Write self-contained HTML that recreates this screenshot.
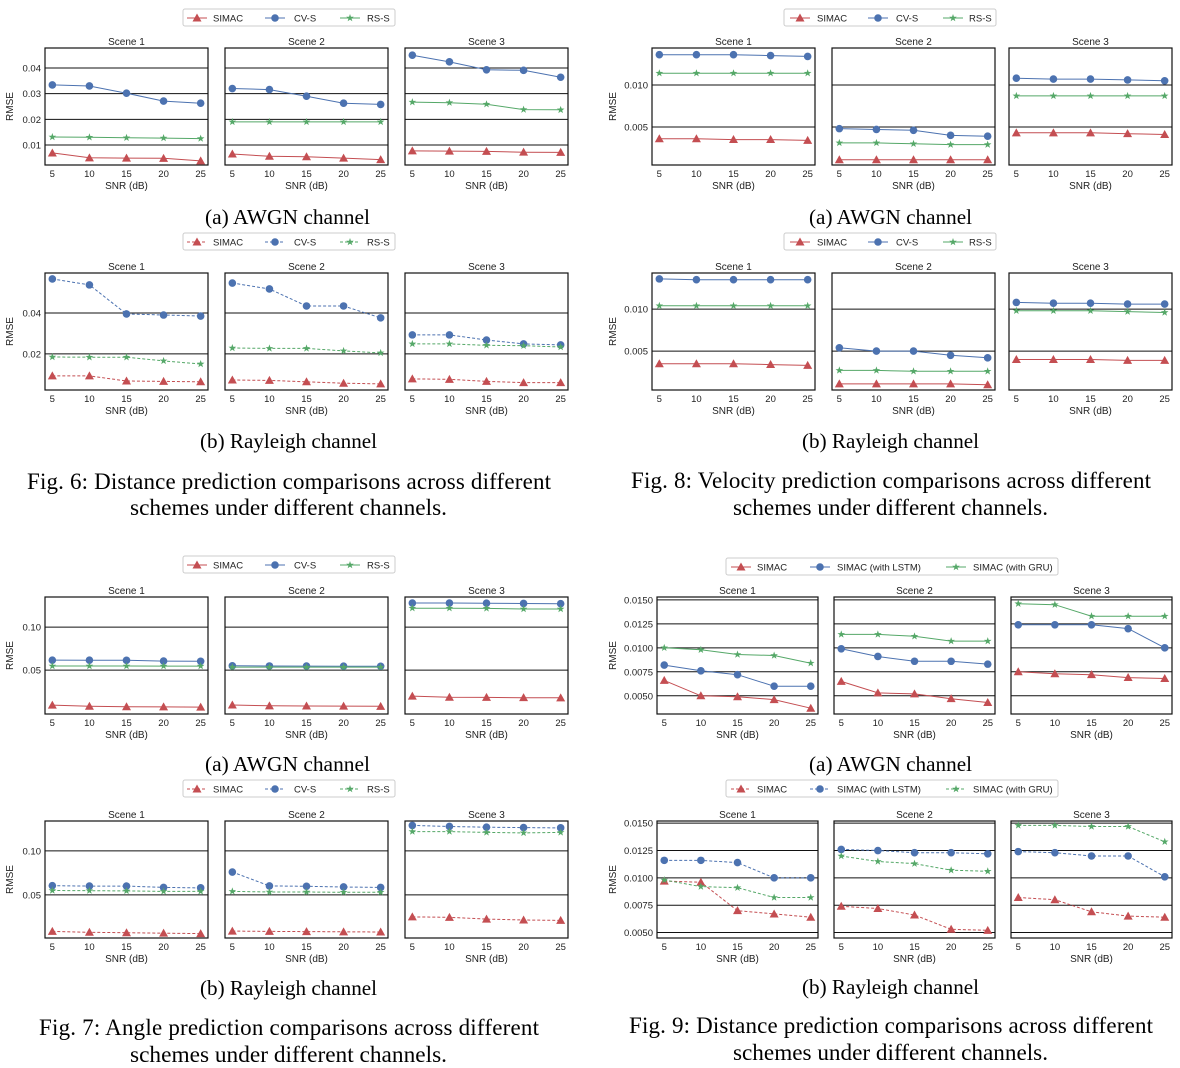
<!DOCTYPE html>
<html><head><meta charset="utf-8">
<style>
html,body{margin:0;padding:0;background:#fff;}
svg{display:block;font-family:"Liberation Sans",sans-serif;}
.cap{font-family:"Liberation Serif",serif;}
</style></head>
<body>
<svg id="root" width="1180" height="1068" viewBox="0 0 1180 1068" xmlns="http://www.w3.org/2000/svg">
<g class="cap" fill="#000">
<text x="205" y="224" font-size="21" textLength="165" lengthAdjust="spacingAndGlyphs">(a) AWGN channel</text>
<text x="200" y="448" font-size="21" textLength="177" lengthAdjust="spacingAndGlyphs">(b) Rayleigh channel</text>
<text x="27" y="489" font-size="23" textLength="524" lengthAdjust="spacing">Fig. 6: Distance prediction comparisons across different</text>
<text x="130" y="515" font-size="23" textLength="317" lengthAdjust="spacingAndGlyphs">schemes under different channels.</text>
<text x="205" y="771" font-size="21" textLength="165" lengthAdjust="spacingAndGlyphs">(a) AWGN channel</text>
<text x="200" y="995" font-size="21" textLength="177" lengthAdjust="spacingAndGlyphs">(b) Rayleigh channel</text>
<text x="39" y="1035" font-size="23" textLength="500" lengthAdjust="spacing">Fig. 7: Angle prediction comparisons across different</text>
<text x="130" y="1062" font-size="23" textLength="317" lengthAdjust="spacingAndGlyphs">schemes under different channels.</text>
<text x="809" y="224" font-size="21" textLength="163" lengthAdjust="spacingAndGlyphs">(a) AWGN channel</text>
<text x="802" y="448" font-size="21" textLength="177" lengthAdjust="spacingAndGlyphs">(b) Rayleigh channel</text>
<text x="631" y="488" font-size="23" textLength="520" lengthAdjust="spacing">Fig. 8: Velocity prediction comparisons across different</text>
<text x="733" y="515" font-size="23" textLength="315" lengthAdjust="spacingAndGlyphs">schemes under different channels.</text>
<text x="809" y="771" font-size="21" textLength="163" lengthAdjust="spacingAndGlyphs">(a) AWGN channel</text>
<text x="802" y="994" font-size="21" textLength="177" lengthAdjust="spacingAndGlyphs">(b) Rayleigh channel</text>
<text x="629" y="1033" font-size="23" textLength="524" lengthAdjust="spacing">Fig. 9: Distance prediction comparisons across different</text>
<text x="733" y="1060" font-size="23" textLength="315" lengthAdjust="spacingAndGlyphs">schemes under different channels.</text>
</g>
</svg>
<script>
const snr = [5, 10, 15, 20, 25];
const sceneNames = ["Scene 1", "Scene 2", "Scene 3"];
const legendA = ["SIMAC", "CV-S", "RS-S"];
const legendB = ["SIMAC", "SIMAC (with LSTM)", "SIMAC (with GRU)"];
// Fig 6a
const f6a_simac = [[0.0069,0.005,0.0049,0.0048,0.0038],[0.0065,0.0056,0.0054,0.0049,0.0043],[0.0077,0.0076,0.0075,0.0072,0.0071]];
const f6a_cvs = [[0.0334,0.033,0.0302,0.0271,0.0263],[0.032,0.0316,0.029,0.0263,0.0258],[0.045,0.0424,0.0393,0.0391,0.0364]];
const f6a_rss = [[0.0131,0.013,0.0128,0.0127,0.0125],[0.019,0.019,0.019,0.019,0.019],[0.0267,0.0265,0.0259,0.0238,0.0237]];
const f6a_ticks = [0.01, 0.02, 0.03, 0.04];
// Fig 6b
const f6b_simac = [[0.0093,0.0093,0.0068,0.0066,0.0064],[0.0073,0.0071,0.0064,0.0057,0.0054],[0.0078,0.0076,0.0066,0.006,0.006]];
const f6b_cvs = [[0.0566,0.0537,0.0395,0.039,0.0385],[0.0546,0.0517,0.0434,0.0434,0.0376],[0.0293,0.0293,0.0268,0.0249,0.0244]];
const f6b_rss = [[0.0185,0.0184,0.0184,0.0166,0.0151],[0.0229,0.0227,0.0227,0.0215,0.0205],[0.0249,0.0249,0.0242,0.024,0.0234]];
const f6b_ticks = [0.02, 0.04];
// Fig 7a
const f7a_simac = [[0.0093,0.008,0.0075,0.0073,0.007],[0.0095,0.0085,0.0083,0.0082,0.0079],[0.0198,0.0185,0.0183,0.018,0.0178]];
const f7a_cvs = [[0.0616,0.0615,0.0614,0.0605,0.0603],[0.055,0.0548,0.0547,0.0546,0.0545],[0.128,0.128,0.1278,0.1275,0.1272]];
const f7a_rss = [[0.0548,0.0548,0.0548,0.0547,0.0547],[0.0535,0.0535,0.0535,0.0535,0.0535],[0.122,0.122,0.1218,0.121,0.121]];
const f7a_ticks = [0.05, 0.10];
// Fig 7b
const f7b_simac = [[0.0085,0.0075,0.007,0.0065,0.006],[0.0088,0.0085,0.0083,0.008,0.0078],[0.025,0.0245,0.0225,0.0215,0.021]];
const f7b_cvs = [[0.0605,0.06,0.06,0.0585,0.058],[0.076,0.0602,0.0598,0.059,0.0585],[0.129,0.1278,0.127,0.1265,0.1262]];
const f7b_rss = [[0.055,0.0548,0.0545,0.054,0.054],[0.054,0.0533,0.0533,0.053,0.053],[0.122,0.122,0.121,0.1205,0.121]];
const f7b_ticks = [0.05, 0.10];
// Fig 8a
const f8a_simac = [[0.0036,0.0036,0.0035,0.0035,0.0034],[0.0011,0.0011,0.0011,0.0011,0.0011],[0.0043,0.0043,0.0043,0.0042,0.0041]];
const f8a_cvs = [[0.0136,0.0136,0.0136,0.0135,0.0134],[0.0048,0.0047,0.0046,0.004,0.0039],[0.0108,0.0107,0.0107,0.0106,0.0105]];
const f8a_rss = [[0.0114,0.0114,0.0114,0.0114,0.0114],[0.0031,0.0031,0.003,0.0029,0.0029],[0.0087,0.0087,0.0087,0.0087,0.0087]];
const f8_ticks = [0.005, 0.010];
// Fig 8b
const f8b_simac = [[0.0035,0.0035,0.0035,0.0034,0.0033],[0.0011,0.0011,0.0011,0.0011,0.001],[0.004,0.004,0.004,0.0039,0.0039]];
const f8b_cvs = [[0.0136,0.0135,0.0135,0.0135,0.0135],[0.0054,0.005,0.005,0.0045,0.0042],[0.0108,0.0107,0.0107,0.0106,0.0106]];
const f8b_rss = [[0.0104,0.0104,0.0104,0.0104,0.0104],[0.0027,0.0027,0.0026,0.0026,0.0026],[0.0098,0.0098,0.0098,0.0097,0.0096]];
// Fig 9a
const f9a_simac = [[0.0066,0.005,0.0049,0.0046,0.0037],[0.0065,0.0053,0.0052,0.0047,0.0043],[0.0075,0.0073,0.0072,0.0069,0.0068]];
const f9a_lstm = [[0.0082,0.0076,0.0072,0.006,0.006],[0.0099,0.0091,0.0086,0.0086,0.0083],[0.0124,0.0124,0.0124,0.012,0.01]];
const f9a_gru = [[0.01,0.0098,0.0093,0.0092,0.0084],[0.0114,0.0114,0.0112,0.0107,0.0107],[0.0146,0.0145,0.0133,0.0133,0.0133]];
const f9_ticks = [0.005, 0.0075, 0.01, 0.0125, 0.015];
// Fig 9b
const f9b_simac = [[0.0097,0.0096,0.007,0.0067,0.0064],[0.0074,0.0072,0.0066,0.0053,0.0052],[0.0082,0.008,0.0069,0.0065,0.0064]];
const f9b_lstm = [[0.0116,0.0116,0.0114,0.01,0.01],[0.0126,0.0125,0.0123,0.0123,0.0122],[0.0124,0.0123,0.012,0.012,0.0101]];
const f9b_gru = [[0.0098,0.0092,0.0091,0.0082,0.0082],[0.012,0.0115,0.0113,0.0107,0.0106],[0.0148,0.0148,0.0147,0.0147,0.0133]];

const COLORS = ["#c44e52", "#4c72b0", "#55a868"];
const NS = "http://www.w3.org/2000/svg";
const root = document.getElementById("root");
function mk(tag, attrs, parent) {
  const e = document.createElementNS(NS, tag);
  for (const k in attrs) e.setAttribute(k, attrs[k]);
  (parent || root).appendChild(e);
  return e;
}
function marker(g, kind, x, y, color, name) {
  let m;
  if (kind === 0) m = mk("polygon", {points: `${x},${y-4.5} ${x-4.5},${y+3.5} ${x+4.5},${y+3.5}`, fill: color}, g);
  else if (kind === 1) m = mk("circle", {cx: x, cy: y, r: 3.8, fill: color}, g);
  else {
    let p = [];
    for (let i = 0; i < 10; i++) { const r = i % 2 ? 1.6 : 4, a = -Math.PI/2 + i*Math.PI/5; p.push((x + r*Math.cos(a)).toFixed(2) + "," + (y + r*Math.sin(a)).toFixed(2)); }
    m = mk("polygon", {points: p.join(" "), fill: color}, g);
  }
  
  
}
function legend(id, x0, y, w, labels, lineXs, textXs, dashed) {
  const g = mk("g", {});
  
  
  mk("rect", {x: x0, y: y-9, width: w, height: 17, rx: 2, fill: "#fff", stroke: "#ccc", "stroke-width": 1}, g);
  labels.forEach((lb, i) => {
    const e = mk("g", {}, g);
    
    
    mk("line", {x1: lineXs[i], x2: lineXs[i]+20, y1: y, y2: y, stroke: COLORS[i], "stroke-width": 1, "stroke-dasharray": dashed ? "3,2" : "none"}, e);
    marker(e, i, lineXs[i]+10, y, COLORS[i], 'legend-marker');
    const t = mk("text", {x: textXs[i], y: y+3.5, "font-size": 9.5, fill: "#222"}, e);
    t.textContent = lb;
  });
}
function group(cfg) {
  const g = mk("g", {});
  
  
  const yt = cfg.top, h = 117;
  const ys = v => yt + h - (v - cfg.ymin) / (cfg.ymax - cfg.ymin) * h;
  const ylab = mk("text", {x: cfg.rmseX, y: yt + h/2, "font-size": 10, fill: "#222", "text-anchor": "middle", transform: `rotate(-90 ${cfg.rmseX} ${yt+h/2})`}, g);
  ylab.textContent = "RMSE";
  
  
  cfg.xs.forEach((x0, p) => {
    const w = cfg.w;
    const xs = v => x0 + w*0.045 + (v - 5) / 20 * w * 0.91;
    const pg = mk("g", {}, g);
    
    
    const tt = mk("text", {x: x0 + w/2, y: yt - 3, "font-size": 10, fill: "#222", "text-anchor": "middle"}, pg);
    tt.textContent = sceneNames[p];
    
    
    cfg.ticks.forEach(t => {
      const y = ys(t);
      if (y < yt || y > yt + h) return;
      mk("line", {x1: x0, x2: x0 + w, y1: y, y2: y, stroke: "#111", "stroke-width": 1}, pg);
      if (p === 0) {
        const l = mk("text", {x: x0 - 4, y: y + 3.5, "font-size": 9.5, fill: "#222", "text-anchor": "end"}, pg);
        l.textContent = t.toFixed(cfg.dec);
        
        
      }
    });
    mk("rect", {x: x0, y: yt, width: w, height: h, fill: "none", stroke: "#111", "stroke-width": 1.2}, pg);
    snr.forEach(v => {
      const l = mk("text", {x: xs(v), y: yt + h + 12, "font-size": 9.5, fill: "#222", "text-anchor": "middle"}, pg);
      l.textContent = v;
      
      
    });
    const xl = mk("text", {x: x0 + w/2, y: yt + h + 24, "font-size": 10, fill: "#222", "text-anchor": "middle"}, pg);
    xl.textContent = "SNR (dB)";
    
    
    cfg.series.forEach((s, si) => {
      const vals = s[p];
      const pts = vals.map((v, i) => xs(snr[i]).toFixed(1) + "," + ys(v).toFixed(1)).join(" ");
      const pl = mk("polyline", {points: pts, fill: "none", stroke: COLORS[si], "stroke-width": 1, "stroke-dasharray": cfg.dashed ? "3,2" : "none"}, pg);
      
      
      vals.forEach((v, i) => marker(pg, si, xs(snr[i]), ys(v), COLORS[si], 'data-point'));
    });
  });
}
const L = [45, 225, 405];
legend('legend-fig6a', 183, 18, 212, legendA, [187,265,340], [213,294,367], false);
legend('legend-fig6b', 183, 242, 212, legendA, [187,265,340], [213,294,367], true);
legend('legend-fig7a', 183, 565, 212, legendA, [187,265,340], [213,294,367], false);
legend('legend-fig7b', 183, 789, 212, legendA, [187,265,340], [213,294,367], true);
legend('legend-fig8a', 784, 18, 212, legendA, [790,868,943], [817,896,969], false);
legend('legend-fig8b', 784, 242, 212, legendA, [790,868,943], [817,896,969], false);
legend('legend-fig9a', 726, 567, 332, legendB, [731,810,946], [757,837,973], false);
legend('legend-fig9b', 726, 789, 332, legendB, [731,810,946], [757,837,973], true);
group({name:'fig6a', xs:L, w:163, top:48, ymin:0.0022, ymax:0.0478, ticks:f6a_ticks, dec:2, rmseX:13, series:[f6a_simac,f6a_cvs,f6a_rss], dashed:false});
group({name:'fig6b', xs:L, w:163, top:273, ymin:0.0024, ymax:0.0595, ticks:f6b_ticks, dec:2, rmseX:13, series:[f6b_simac,f6b_cvs,f6b_rss], dashed:true});
group({name:'fig7a', xs:L, w:163, top:597, ymin:-0.001, ymax:0.135, ticks:f7a_ticks, dec:2, rmseX:13, series:[f7a_simac,f7a_cvs,f7a_rss], dashed:false});
group({name:'fig7b', xs:L, w:163, top:821, ymin:0.001, ymax:0.134, ticks:f7b_ticks, dec:2, rmseX:13, series:[f7b_simac,f7b_cvs,f7b_rss], dashed:true});
group({name:'fig8a', xs:[652,832,1009], w:163, top:48, ymin:0.00047, ymax:0.0144, ticks:f8_ticks, dec:3, rmseX:616, series:[f8a_simac,f8a_cvs,f8a_rss], dashed:false});
group({name:'fig8b', xs:[652,832,1009], w:163, top:273, ymin:0.00037, ymax:0.0143, ticks:f8_ticks, dec:3, rmseX:616, series:[f8b_simac,f8b_cvs,f8b_rss], dashed:false});
group({name:'fig9a', xs:[657,834,1011], w:161, top:597, ymin:0.0031, ymax:0.0153, ticks:f9_ticks, dec:4, rmseX:616, series:[f9a_simac,f9a_lstm,f9a_gru], dashed:false});
group({name:'fig9b', xs:[657,834,1011], w:161, top:821, ymin:0.0045, ymax:0.0152, ticks:f9_ticks, dec:4, rmseX:616, series:[f9b_simac,f9b_lstm,f9b_gru], dashed:true});
</script>
</body></html>
